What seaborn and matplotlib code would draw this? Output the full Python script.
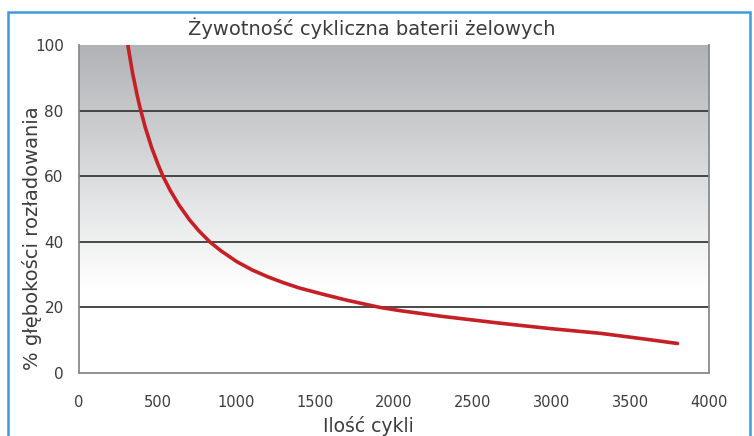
import numpy as np
import pandas as pd
import seaborn as sns
from matplotlib import pyplot as plt
from matplotlib.patches import Rectangle

cykle = [310, 340, 370, 387, 420, 460, 500, 533, 580, 635, 700, 760, 830, 900, 1000, 1100, 1200,
         1300, 1400, 1550, 1700, 1910, 2040, 2300, 2670, 3000, 3310, 3600, 3800]
glebokosc = [100, 91.5, 84.5, 81, 75, 68.9, 63.8, 60, 55.6, 51.2, 46.8, 43.4, 40, 37.3, 34, 31.4, 29.3,
             27.5, 25.9, 24.0, 22.2, 20.0, 19.0, 17.3, 15.2, 13.5, 12.1, 10.3, 9.0]
x_ticks = [0, 500, 1000, 1500, 2000, 2500, 3000, 3500, 4000]
y_ticks = [0, 20, 40, 60, 80, 100]

df = pd.DataFrame({"cykle": cykle, "glebokosc": glebokosc})

sns.set_style("white")
plt.rcParams['font.family'] = ['DejaVu Sans']

W, H = 754, 436
fig = plt.figure(figsize=(W / 100, H / 100), dpi=100)
ax = fig.add_axes([79 / W, 1 - 373 / H, 630 / W, 328 / H])

# niebieska ramka
fig.patches.append(Rectangle((8 / W, -0.05), 742 / W, 1.05 - 12 / H, transform=fig.transFigure,
                             fill=False, edgecolor='#3d9bdc', linewidth=1.8))

# gradient tla (szary u gory, bialy na dole)
grad = np.linspace(0, 1, 256)[:, None]
top = np.array([0.69, 0.70, 0.71])
col = top + (1 - top) * np.clip(grad * 1.35, 0, 1)[:, :, None]
col = np.repeat(col, 2, axis=1)
ax.imshow(col, extent=[0, 4000, 0, 100], origin='upper', aspect='auto', zorder=0)

for v in y_ticks[1:-1]:
    ax.axhline(v, color='#3a3a3a', linewidth=1.3, zorder=1)

sns.lineplot(data=df, x="cykle", y="glebokosc", ax=ax, color='#c42026', linewidth=2.6, zorder=3)

ax.set_xlim(0, 4000)
ax.set_ylim(0, 100)
ax.set_xticks(x_ticks)
ax.set_yticks(y_ticks)
ax.tick_params(axis='x', direction='in', length=4, color='#888888', labelsize=10.5, labelcolor='#3c3c3c', pad=16)
ax.tick_params(axis='y', direction='out', length=5, color='#888888', labelsize=11, labelcolor='#3c3c3c', pad=6)
for s in ['left', 'bottom', 'right']:
    ax.spines[s].set_color('#8a8a8a')
    ax.spines[s].set_linewidth(1.3)
ax.spines['top'].set_visible(False)

ax.set_xlabel("Ilość cykli", fontsize=13.5, color='#3c3c3c')
ax.xaxis.set_label_coords((368 - 79) / 630, (373 - 436) / 328)
ax.xaxis.label.set_va('bottom')
ax.set_ylabel("% głębokości rozładowania", fontsize=14, color='#3c3c3c')
ax.yaxis.set_label_coords((42 - 79) / 630, (373 - 238) / 328)
fig.text(372 / W, 1 - 28 / H, "Żywotność cykliczna baterii żelowych", fontsize=14,
         color='#3c3c3c', ha='center', va='center')

fig.savefig("out.png", dpi=100)
